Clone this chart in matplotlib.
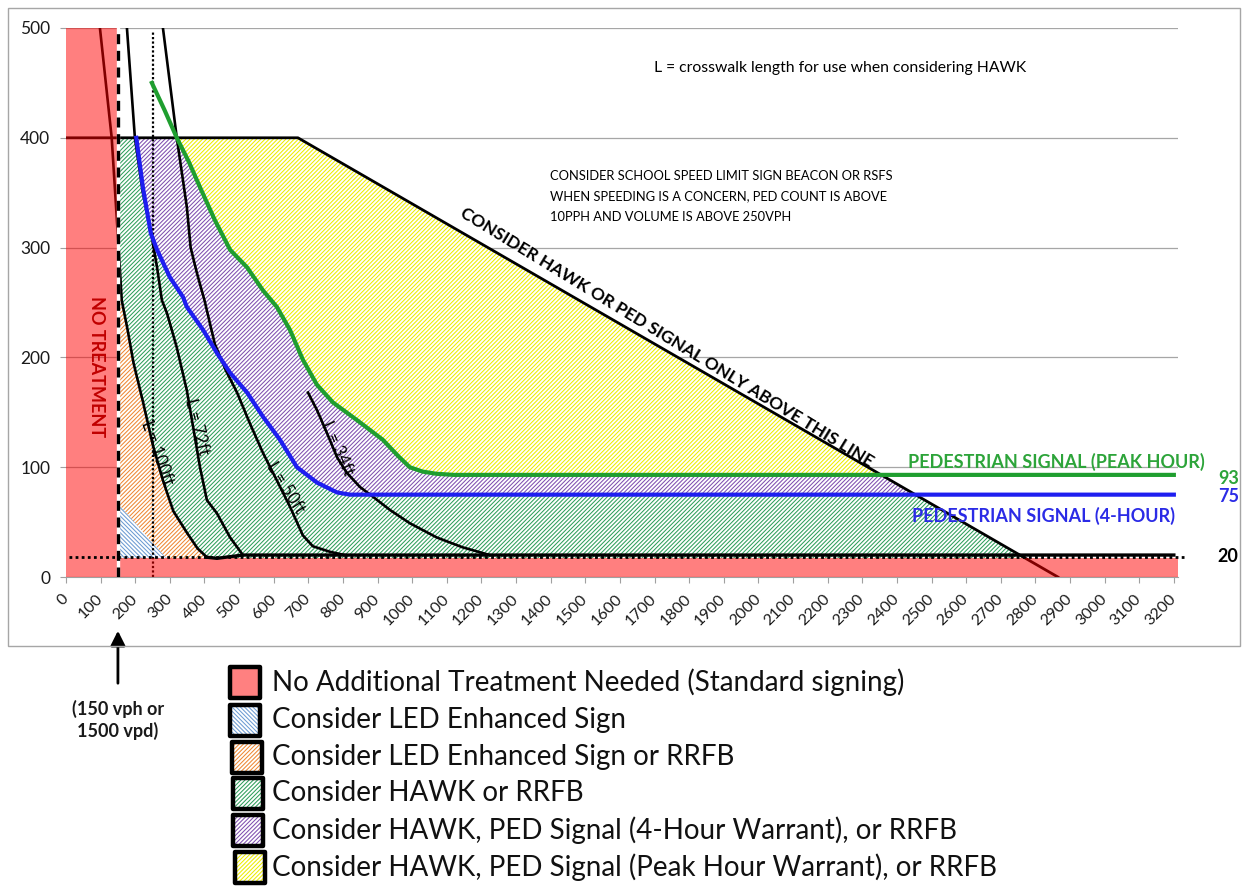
import matplotlib.pyplot as plt
from matplotlib.patches import Polygon, Rectangle
import numpy as np

plt.rcParams['font.family'] = ['Lato', 'DejaVu Sans']
plt.rcParams['hatch.linewidth'] = 0.75

# curves (x = vehicles per hour, y = pedestrians per hour)
L100_X = [98, 132, 150, 161, 178, 195, 222, 251, 280, 310, 350, 380, 407]
L100_Y = [500, 400, 310, 252, 225, 195, 160, 120, 88, 60, 40, 26, 18]
L72_X = [176, 199, 222, 246, 263, 277, 292, 320, 349, 367, 387, 407, 436, 474, 511]
L72_Y = [500, 400, 350, 313, 282, 252, 240, 209, 170, 137, 100, 70, 58, 36, 20]
L50_X = [280, 320, 349, 360, 378, 400, 430, 462, 494, 531, 569, 609, 647, 684, 713, 762, 805]
L50_Y = [500, 400, 337, 300, 277, 252, 212, 188, 168, 140, 113, 88, 64, 38, 28, 23, 20]
L34_X = [699, 725, 754, 783, 811, 849, 887, 936, 993, 1071, 1146, 1224]
L34_Y = [168, 152, 131, 109, 95, 82, 73, 61, 49, 36, 27, 20]

# pedestrian signal warrants
FOUR_HR_X = [203, 222, 245, 263, 300, 338, 349, 396, 436, 474, 523, 569, 618, 667, 725, 783, 820, 3200]
FOUR_HR_Y = [400, 355, 313, 298, 273, 255, 246, 225, 204, 186, 168, 146, 125, 100, 86, 77, 75, 75]
PEAK_X = [248, 285, 320, 355, 387, 430, 474, 523, 569, 609, 647, 684, 725, 771, 840, 915, 960, 993, 1030, 1070, 1120, 3200]
PEAK_Y = [450, 425, 400, 378, 355, 325, 298, 282, 261, 246, 225, 198, 175, 159, 143, 125, 110, 100, 96, 94, 93, 93]

# "consider HAWK or PED signal only above this line"
TOP_X = [0, 670, 2865]
TOP_Y = [400, 400, 0]
# minimum pedestrian line
BASE_X = [407, 436, 511, 3200]
BASE_Y = [18, 17, 20, 20]

MIN_VOL = 150      # vph
DOT_VOL = 250
NO_TREAT_PED = 17
XMAX = 3212

XTICKS = list(range(0, 3201, 100))
YTICKS = list(range(0, 501, 100))

LEGEND = ['No Additional Treatment Needed (Standard signing)',
          'Consider LED Enhanced Sign',
          'Consider LED Enhanced Sign or RRFB',
          'Consider HAWK or RRFB',
          'Consider HAWK, PED Signal (4-Hour Warrant), or RRFB',
          'Consider HAWK, PED Signal (Peak Hour Warrant), or RRFB']

C_GREEN_H = '#2E9E5B'
C_PURPLE_H = '#7F4FAF'
C_YELLOW_H = '#EDED00'
C_ORANGE_H = '#EE8833'
C_BLUE_H = '#6C9BD2'
C_GREEN = '#1F9E2F'
C_BLUE = '#1E1EF0'
HATCH = '/' * 8
BHATCH = '\\' * 8

W, H = 1245, 886
fig = plt.figure(figsize=(W / 100, H / 100), dpi=100)
ax = fig.add_axes([66 / W, 1 - 577 / H, (1178 - 66) / W, (577 - 28) / H])
ax.set_xlim(0, XMAX)
ax.set_ylim(0, 500)

# chart frame
fig.add_artist(Rectangle((8 / W, 1 - 646 / H), 1232 / W, 638 / H, transform=fig.transFigure,
                         fill=False, ec='#A6A6A6', lw=1))

# clip region for the hatched treatment zones
x17 = np.interp(NO_TREAT_PED, TOP_Y[::-1], TOP_X[::-1])
env = Polygon([(MIN_VOL, NO_TREAT_PED), (MIN_VOL, 400), (TOP_X[1], 400), (x17, NO_TREAT_PED)],
              closed=True, transform=ax.transData)


def hatched(pts, color, hatch):
    p = Polygon(pts, closed=True, facecolor='white', edgecolor=color, hatch=hatch, lw=0, zorder=1)
    ax.add_patch(p)
    p.set_clip_path(env)


blue_pts = list(zip(FOUR_HR_X, FOUR_HR_Y))
peak_pts = list(zip(PEAK_X, PEAK_Y))
l100_rev = list(zip(L100_X, L100_Y))[::-1]

hatched(peak_pts + [(3200, 500), (PEAK_X[0], 500)], C_YELLOW_H, HATCH)
hatched(blue_pts + peak_pts[::-1], C_PURPLE_H, HATCH)
hatched(blue_pts + [(3200, NO_TREAT_PED), (L100_X[-1], NO_TREAT_PED)] + l100_rev, C_GREEN_H, HATCH)
hatched([(MIN_VOL, NO_TREAT_PED), (L100_X[-1], NO_TREAT_PED)] + l100_rev, C_ORANGE_H, HATCH)
hatched([(MIN_VOL, NO_TREAT_PED), (MIN_VOL, 67), (290, NO_TREAT_PED)], C_BLUE_H, BHATCH)

# curves
ax.plot(TOP_X, TOP_Y, color='black', lw=2, zorder=2)
for xs, ys in [(L100_X, L100_Y), (L72_X, L72_Y), (L50_X, L50_Y), (L34_X, L34_Y)]:
    ax.plot(xs, ys, color='black', lw=1.9, zorder=2)
ax.plot(FOUR_HR_X, FOUR_HR_Y, color=C_BLUE, lw=3, zorder=2.5)
ax.plot(PEAK_X, PEAK_Y, color=C_GREEN, lw=3, zorder=2.5)
ax.plot([DOT_VOL, DOT_VOL], [0, 496], color='black', lw=1.6, ls=(0, (1, 1)), zorder=2)

# no treatment area
ax.fill([0, XMAX, XMAX, MIN_VOL, MIN_VOL, 0], [0, 0, NO_TREAT_PED, NO_TREAT_PED, 500, 500],
        color='red', alpha=0.5, lw=0, zorder=3)

ax.plot(BASE_X, BASE_Y, color='black', lw=2.4, zorder=4)
ax.plot([10, 3230], [18.5, 18.5], color='black', lw=2, ls=(0, (1, 1.2)), zorder=4, clip_on=False)
ax.plot([MIN_VOL, MIN_VOL], [0, 500], color='white', lw=2.4, zorder=4)
ax.plot([MIN_VOL, MIN_VOL], [0, 500], color='black', lw=2.4, ls=(0, (3, 2)), zorder=4.1)

# axes styling
ax.set_xticks(XTICKS)
ax.set_xticklabels([str(t) for t in XTICKS], rotation=45, ha='right', va='center',
                   rotation_mode='anchor')
ax.set_yticks(YTICKS)
ax.yaxis.grid(True, color='#A6A6A6', lw=0.9)
ax.set_axisbelow(True)
for s in ['top', 'right', 'left']:
    ax.spines[s].set_visible(False)
ax.spines['bottom'].set_color('#A0A0A0')
ax.tick_params(axis='y', length=4.3, color='#A0A0A0', labelsize=12.5, pad=7, labelcolor='#1a1a1a')
ax.tick_params(axis='x', length=4.3, color='#A0A0A0', labelsize=11.5, pad=10, labelcolor='#1a1a1a')

# annotations
ax.text(89, 192, 'NO TREATMENT', rotation=-90, ha='center', va='center', fontsize=13,
        fontweight='bold', color='#C00000', zorder=5)
ax.text(1735, 218, 'CONSIDER HAWK OR PED SIGNAL ONLY ABOVE THIS LINE', rotation=-31.5,
        ha='center', va='center', fontsize=12.5, fontweight='bold', zorder=5)
ax.text(2235, 464, 'L = crosswalk length for use when considering HAWK', ha='center',
        va='center', fontsize=11.3)
ax.text(1398, 371, 'CONSIDER SCHOOL SPEED LIMIT SIGN BEACON OR RSFS\n'
        'WHEN SPEEDING IS A CONCERN, PED COUNT IS ABOVE\n10PPH AND VOLUME IS ABOVE 250VPH',
        ha='left', va='top', fontsize=9.3, linespacing=1.85)
ax.text(3290, 104.7, 'PEDESTRIAN SIGNAL (PEAK HOUR)', ha='right', va='center', fontsize=13,
        fontweight='bold', color='#2DA43A')
ax.text(3203, 55.5, 'PEDESTRIAN SIGNAL (4-HOUR)', ha='right', va='center', fontsize=13,
        fontweight='bold', color='#2B2BE6')
ax.text(3327, 90, '93', ha='left', va='center', fontsize=13, fontweight='bold', color='#2DA43A')
ax.text(3327, 73, '75', ha='left', va='center', fontsize=13, fontweight='bold', color='#2B2BE6')
ax.text(3327, 19, '20', ha='left', va='center', fontsize=13, fontweight='bold', color='black')

for txt, x, y, rot in [('L = 100ft', 263, 113, -70), ('L = 72ft', 378, 137, -76),
                       ('L = 50ft', 635, 81, -58), ('L = 34ft', 783, 117, -66)]:
    ax.text(x, y, txt, rotation=rot, ha='center', va='center', fontsize=12, zorder=5)

ax.annotate('', xy=(MIN_VOL, H - 628), xytext=(MIN_VOL, H - 686),
            xycoords=('data', 'figure pixels'), textcoords=('data', 'figure pixels'),
            arrowprops=dict(arrowstyle='-|>', color='black', lw=2, mutation_scale=22))
ax.annotate('(150 vph or\n1500 vpd)', xy=(MIN_VOL, H - 720), xycoords=('data', 'figure pixels'),
            ha='center', va='center', fontsize=13, fontweight='bold', color='#1a1a1a',
            linespacing=1.3)

# legend drawn by hand
box_x = [230, 230, 232, 233, 233, 235]
row_y = [682, 720, 757, 793, 830, 867]
fills = [None, C_BLUE_H, C_ORANGE_H, C_GREEN_H, C_PURPLE_H, C_YELLOW_H]
for label, bx, ry, col in zip(LEGEND, box_x, row_y, fills):
    x0, y0 = bx / W, 1 - (ry + 15.5) / H
    bw, bh = 30 / W, 31 / H
    if col is None:
        fig.add_artist(Rectangle((x0, y0), bw, bh, transform=fig.transFigure,
                                 facecolor='#FF8080', lw=0))
    else:
        fig.add_artist(Rectangle((x0, y0), bw, bh, transform=fig.transFigure,
                                 facecolor='white', edgecolor=col,
                                 hatch=BHATCH if col == C_BLUE_H else HATCH, lw=0))
    fig.add_artist(Rectangle((x0, y0), bw, bh, transform=fig.transFigure, fill=False,
                             edgecolor='black', lw=3.2, joinstyle='round'))
    fig.text(272 / W, 1 - ry / H, label, va='center', ha='left', fontsize=20, color='#111111')

fig.savefig('out.png', dpi=100)
